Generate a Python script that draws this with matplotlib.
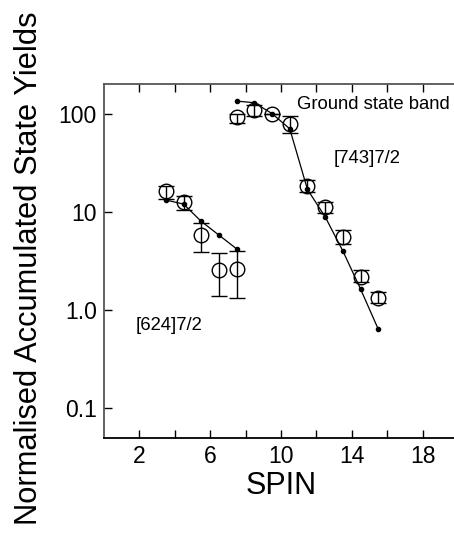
import matplotlib
matplotlib.use("Agg")
import matplotlib.pyplot as plt
from matplotlib.ticker import FixedLocator, NullLocator

plt.rcParams['font.family'] = ['Liberation Sans', 'DejaVu Sans']

# ground state band + [743]7/2 : measured yields (open circles)
gsb_spin = [7.5, 8.5, 9.5, 10.5, 11.5, 12.5, 13.5, 14.5, 15.5]
gsb_yield = [92, 108, 100, 79, 18.4, 11.1, 5.55, 2.18, 1.34]
gsb_err_lo = [11, 14, 0, 15, 2.4, 1.45, 0.85, 0.25, 0.17]
gsb_err_hi = [8, 15, 0, 16, 2.6, 1.5, 0.95, 0.38, 0.19]
# calculated yields (small dots + line)
gsb_calc_spin = [7.5, 8.5, 9.5, 10.5, 11.5, 12.5, 13.5, 14.5, 15.5]
gsb_calc = [134, 129, 100, 70, 16.9, 8.9, 4.0, 1.64, 0.64]

# [624]7/2 band
b624_spin = [3.5, 4.5, 5.5, 6.5, 7.5]
b624_yield = [16.2, 12.6, 5.8, 2.56, 2.6]
b624_err_lo = [2.6, 2.2, 1.9, 1.17, 1.27]
b624_err_hi = [2.0, 2.0, 1.9, 1.23, 1.37]
b624_calc = [13.2, 12.0, 8.0, 5.8, 4.2]

fig = plt.figure(figsize=(4.54, 5.33), dpi=100)
ax = fig.add_axes([0.2289, 0.1782, 0.7797, 0.6642])

for xs, ys, lo, hi in [(gsb_spin, gsb_yield, gsb_err_lo, gsb_err_hi),
                       (b624_spin, b624_yield, b624_err_lo, b624_err_hi)]:
    ax.errorbar(xs, ys, yerr=[lo, hi], fmt='o', mfc='none', mec='black',
                ms=10.5, mew=1.0, ecolor='black', elinewidth=1.0,
                capsize=5.5, capthick=1.0)

ax.plot(gsb_calc_spin, gsb_calc, '-o', color='black', lw=0.9, ms=3)
ax.plot(b624_spin, b624_calc, '-o', color='black', lw=0.9, ms=3)

ax.text(10.93, 123, "Ground state band", fontsize=13.3, va='center', ha='left')
ax.text(12.96, 34.9, "[743]7/2", fontsize=13.3, va='center', ha='left')
ax.text(1.81, 0.70, "[624]7/2", fontsize=13.3, va='center', ha='left')

ax.set_yscale('log')
ax.set_xlim(0, 20)
ax.set_ylim(0.05, 200)
ax.yaxis.set_major_locator(FixedLocator([0.1, 1, 10, 100]))
ax.yaxis.set_minor_locator(NullLocator())
ax.set_yticklabels(["0.1", "1.0", "10", "100"])
ax.set_xticks([2, 4, 6, 8, 10, 12, 14, 16, 18])
ax.set_xticklabels(["2", "", "6", "", "10", "", "14", "", "18"])

ax.tick_params(direction='in', length=6, width=1.0, labelsize=16.5,
               top=True, right=False, pad=5)
ax.spines['right'].set_visible(False)
for s in ['left', 'top']:
    ax.spines[s].set_color('#555555')
    ax.spines[s].set_linewidth(1.3)
ax.spines['bottom'].set_linewidth(1.3)

ax.set_xlabel("SPIN", fontsize=22, labelpad=2)
fig.text(36.7 / 454, 1 - 268 / 533, "Normalised Accumulated State Yields",
         fontsize=22.2, rotation=90, rotation_mode='anchor',
         ha='center', va='baseline')

fig.savefig("out.png", dpi=100)
